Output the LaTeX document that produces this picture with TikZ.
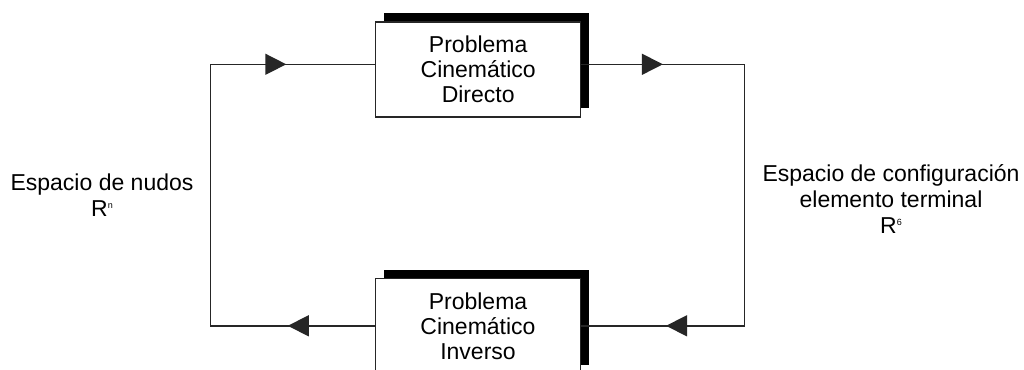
\documentclass[tikz,border=0pt]{standalone}
\usepackage{fontspec}
\setmainfont{Liberation Sans}
\usetikzlibrary{arrows.meta,decorations.markings,shadows}
\newcommand{\supsm}[1]{\raisebox{8pt}{\fontsize{9}{9}\selectfont #1}}
\begin{document}
\begin{tikzpicture}[x=1pt,y=-1pt,
  conn/.style={draw=black!85, line width=1.5pt},
  midarrow/.style={postaction={decorate,decoration={markings,
     mark=at position #1 with {\arrow{Triangle[length=21pt,width=21pt]}}}}},
  probbox/.style={draw=black!85, line width=1.5pt, fill=white,
     minimum width=205pt, minimum height=95pt, inner sep=0pt, align=center,
     font=\fontsize{23}{25}\selectfont,
     general shadow={fill=black, shadow xshift=8pt, shadow yshift=9pt}},
  lbl/.style={align=center, inner sep=0pt, font=\fontsize{23}{26}\selectfont}]
\useasboundingbox (0,0) rectangle (1024,369);
\clip (0,0) rectangle (1024,369);
\fill[white] (0,0) rectangle (1024,369);
\node[probbox] (pcd) at (478.2,69.5) {Problema\\Cinemático\\Directo};
\node[probbox] (pci) at (478,326) {Problema\\Cinemático\\Inverso};
\coordinate (tl) at (210.7,64.3);
\coordinate (tr) at (744.3,64.3);
\coordinate (bl) at (210.7,325.8);
\coordinate (br) at (744.3,325.8);
\node[lbl] (joint) at (102,195) {Espacio de nudos\\R\supsm{n}};
\node[lbl] (conf) at (891,199) {Espacio de configuración\\elemento terminal\\R\supsm{6}};
\draw[conn] (pci.west |- bl) -- (bl) -- (tl) -- (pcd.west |- tl);
\draw[conn] (pcd.east |- tr) -- (tr) -- (br) -- (pci.east |- br);
\draw[conn, midarrow=0.46] (tl) -- (pcd.west |- tl);
\draw[conn, midarrow=0.50] (pcd.east |- tr) -- (tr);
\draw[conn, midarrow=0.48] (br) -- (pci.east |- br);
\draw[conn, midarrow=0.53] (pci.west |- bl) -- (bl);
\end{tikzpicture}
\end{document}
